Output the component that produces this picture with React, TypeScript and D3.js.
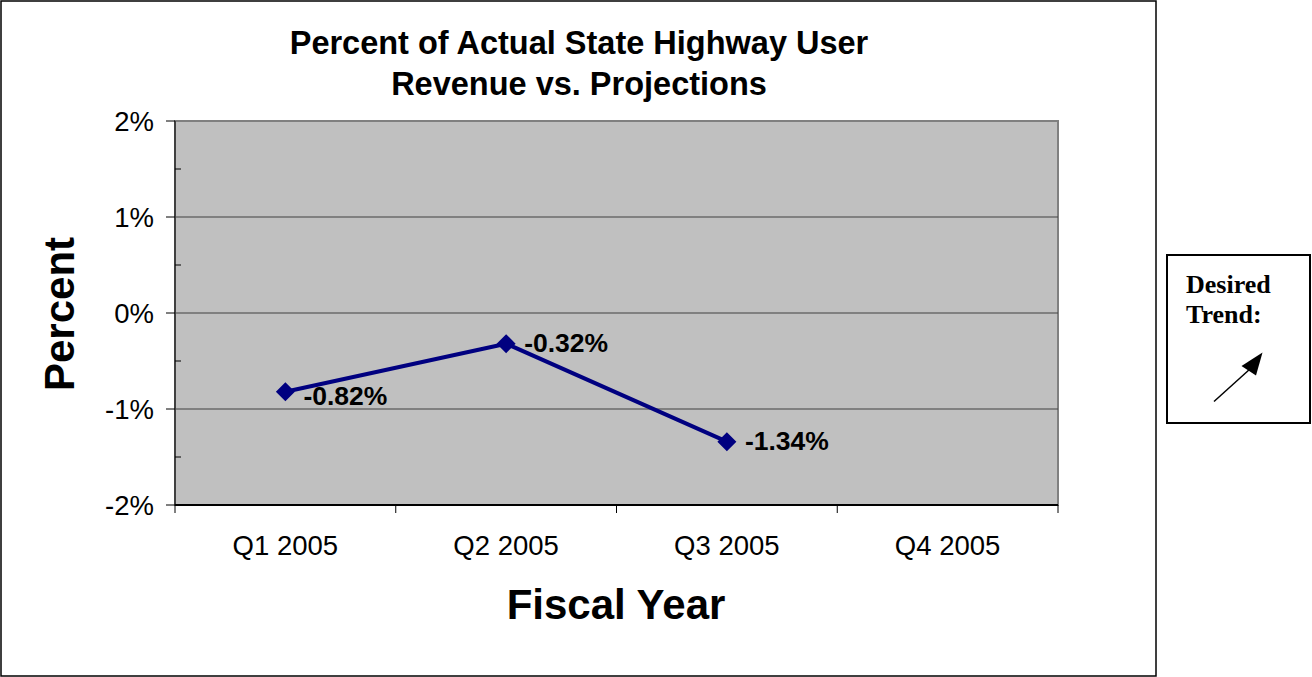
import { line, scaleBand, scaleLinear } from 'd3'

const categories = ['Q1 2005', 'Q2 2005', 'Q3 2005', 'Q4 2005']
const values: (number | null)[] = [-0.82, -0.32, -1.34, null]
const yTicks = [2, 1, 0, -1, -2]
const yMinorTicks = [1.5, 0.5, -0.5, -1.5]
const titleLines = ['Percent of Actual State Highway User', 'Revenue vs. Projections']
const trendLines = ['Desired', 'Trend:']

// vertical nudge of each point's label (px below the point)
const labelDy = [13, 8, 8, 8]

const sans = '"Liberation Sans", Arial, sans-serif'
const serif = '"Liberation Serif", "Times New Roman", serif'

type Point = { c: string; v: number; i: number }

export default function App() {
  const width = 1312
  const height = 677
  const plot = { left: 175, right: 1058, top: 121, bottom: 505 }

  const xBand = scaleBand<string>().domain(categories).range([plot.left, plot.right]).padding(0)
  const xScale = (c: string) => (xBand(c) ?? 0) + xBand.bandwidth() / 2
  const yScale = scaleLinear().domain([-2, 2]).range([plot.bottom, plot.top])

  const points: Point[] = categories
    .map((c, i) => ({ c, v: values[i], i }))
    .filter((p): p is Point => p.v !== null)

  const path =
    line<Point>()
      .x((p) => xScale(p.c))
      .y((p) => yScale(p.v))(points) ?? ''

  const boundaries = [...categories.map((c) => xBand(c) ?? 0), plot.right]
  const diamond = 9.5

  return (
    <svg
      width={width}
      height={height}
      style={{ position: 'absolute', left: 0, top: 0 }}
      viewBox={`0 0 ${width} ${height}`}
    >
      <rect x={0} y={0} width={width} height={height} fill="#fff" />
      <rect x={1} y={1} width={1155} height={675} fill="#fff" stroke="#000" strokeWidth={1.5} />

      {titleLines.map((t, i) => (
        <text
          key={t}
          x={579}
          y={54 + i * 41}
          textAnchor="middle"
          fontFamily={sans}
          fontWeight="bold"
          fontSize={32.5}
        >
          {t}
        </text>
      ))}

      <rect
        x={plot.left}
        y={plot.top}
        width={plot.right - plot.left}
        height={plot.bottom - plot.top}
        fill="#c0c0c0"
        stroke="#808080"
        strokeWidth={2}
      />

      {yTicks
        .filter((t) => t !== 2 && t !== -2)
        .map((t) => (
          <line
            key={`g${t}`}
            x1={plot.left}
            x2={plot.right}
            y1={yScale(t)}
            y2={yScale(t)}
            stroke="#404040"
            strokeWidth={1}
          />
        ))}

      <line x1={plot.left} x2={plot.left} y1={plot.top} y2={plot.bottom} stroke="#404040" strokeWidth={2} />
      <line x1={plot.left} x2={plot.right} y1={plot.bottom} y2={plot.bottom} stroke="#000" strokeWidth={2} />

      {yTicks.map((t) => (
        <g key={`t${t}`}>
          <line x1={plot.left - 9} x2={plot.left} y1={yScale(t)} y2={yScale(t)} stroke="#000" strokeWidth={1} />
          <text x={154} y={yScale(t) + 9.5} textAnchor="end" fontFamily={sans} fontSize={27.5}>
            {`${t}%`}
          </text>
        </g>
      ))}
      {yMinorTicks.map((t) => (
        <line
          key={`m${t}`}
          x1={plot.left}
          x2={plot.left + 6}
          y1={yScale(t)}
          y2={yScale(t)}
          stroke="#000"
          strokeWidth={1}
        />
      ))}

      {boundaries.map((x, i) => (
        <line key={`x${i}`} x1={x} x2={x} y1={plot.bottom} y2={plot.bottom + 8} stroke="#000" strokeWidth={1} />
      ))}
      {categories.map((c) => (
        <text key={c} x={xScale(c)} y={555} textAnchor="middle" fontFamily={sans} fontSize={27.5}>
          {c}
        </text>
      ))}

      <path d={path} fill="none" stroke="#000080" strokeWidth={4} strokeLinejoin="round" />
      {points.map((p) => {
        const cx = xScale(p.c)
        const cy = yScale(p.v)
        return (
          <g key={p.c}>
            <path
              d={`M${cx},${cy - diamond}L${cx + diamond},${cy}L${cx},${cy + diamond}L${cx - diamond},${cy}Z`}
              fill="#000080"
            />
            <text
              x={cx + 18}
              y={cy + labelDy[p.i]}
              fontFamily={sans}
              fontWeight="bold"
              fontSize={26.5}
            >
              {`${p.v.toFixed(2)}%`}
            </text>
          </g>
        )
      })}

      <text
        transform={`translate(74, 314) rotate(-90)`}
        textAnchor="middle"
        fontFamily={sans}
        fontWeight="bold"
        fontSize={42}
      >
        Percent
      </text>
      <text x={616} y={619} textAnchor="middle" fontFamily={sans} fontWeight="bold" fontSize={42}>
        Fiscal Year
      </text>

      <rect x={1167} y={255} width={143} height={168} fill="#fff" stroke="#000" strokeWidth={2} />
      {trendLines.map((t, i) => (
        <text key={t} x={1186} y={293 + i * 30} fontFamily={serif} fontWeight="bold" fontSize={26}>
          {t}
        </text>
      ))}
      <line x1={1214} y1={401.5} x2={1250} y2={369} stroke="#000" strokeWidth={1.5} />
      <path d="M1262.5,352.5 L1256,375.5 L1241.5,366 Z" fill="#000" />
    </svg>
  )
}
